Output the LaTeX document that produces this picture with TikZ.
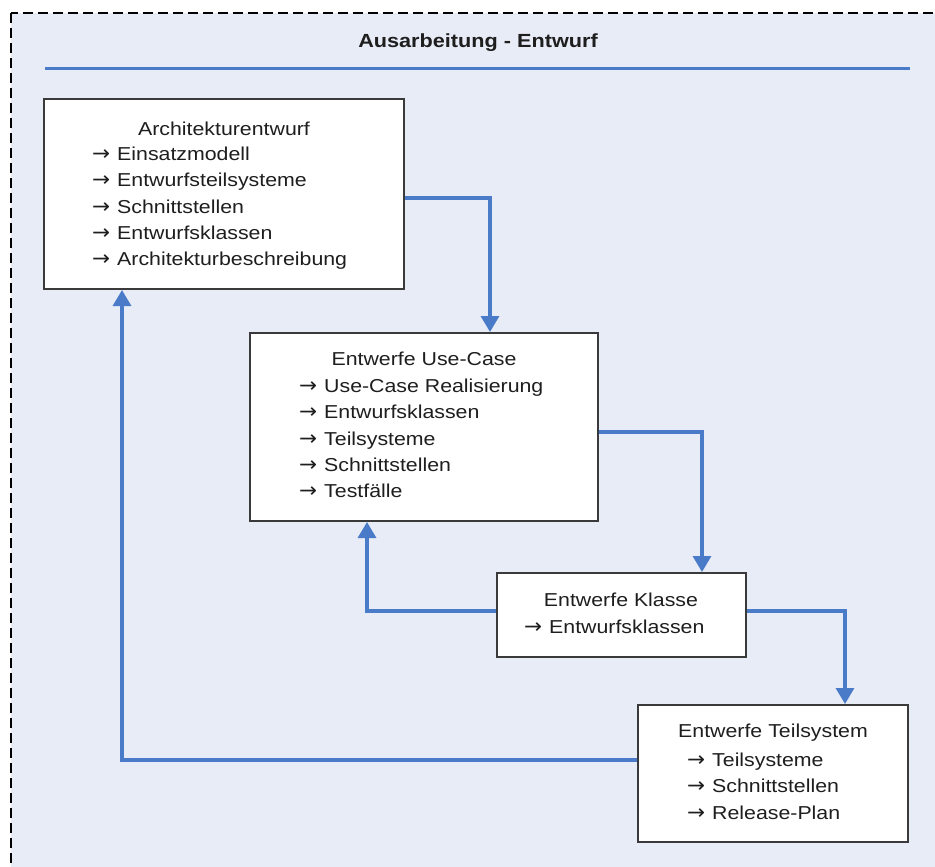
\documentclass[tikz,border=0pt]{standalone}
\usepackage{fontspec}
\usepackage{graphicx}
\setmainfont{Liberation Sans}[FakeStretch=1.14]
\newfontfamily\arrowfont{DejaVu Sans}
\usetikzlibrary{arrows.meta,calc}
\definecolor{panelbg}{HTML}{E8ECF6}
\definecolor{flowblue}{HTML}{4A7BC8}
\definecolor{boxline}{HTML}{3A3A3A}
\definecolor{inktext}{HTML}{1E1E1E}
\newcommand\ra{\scalebox{1.15}[1.1]{\arrowfont →}\hspace{7pt}}
\tikzset{
  stage/.style={draw=boxline, line width=2pt, fill=white, inner sep=0pt},
  flow/.style={draw=flowblue, line width=3.2pt,
    -{Triangle[length=16pt,width=18pt]}},
  head/.style={anchor=center, inner sep=0pt, text=inktext,
    font=\fontsize{18.7}{26.2}\selectfont},
  items/.style={anchor=north west, inner sep=0pt, align=left, text=inktext,
    font=\fontsize{18.7}{26.2}\selectfont},
}
\begin{document}
\begin{tikzpicture}[x=1pt,y=-1pt]
\useasboundingbox (0,0) rectangle (935,867);
\begin{scope}
\clip (0,0) rectangle (935,867);
% dashed frame of the panel
\draw[fill=panelbg, line width=1.8pt, dash pattern=on 10pt off 5pt]
  (11,13) rectangle (960,890);
\end{scope}
% title and rule
\node[text=inktext, font=\bfseries\fontsize{19}{22}\selectfont] (title) at (478,43) {Ausarbeitung - Entwurf};
\draw[flowblue, line width=3pt] (45,69) coordinate (rs) -- (910,69) coordinate (re);

% stages
\node[stage, minimum width=360pt, minimum height=190pt] (A) at (224,194) {};
\node[stage, minimum width=348pt, minimum height=188pt] (B) at (424,427) {};
\node[stage, minimum width=249pt, minimum height=84pt] (C) at (621.5,615) {};
\node[stage, minimum width=270pt, minimum height=137pt] (D) at (773,773.5) {};

% texts
\node[head] (Ah) at (224,129) {Architekturentwurf};
\node[items] (Ai) at (92,147) {\ra Einsatzmodell\\\ra Entwurfsteilsysteme\\\ra Schnittstellen\\\ra Entwurfsklassen\\\ra Architekturbeschreibung};
\node[head] (Bh) at (424,359) {Entwerfe Use-Case};
\node[items] (Bi) at (299,379) {\ra Use-Case Realisierung\\\ra Entwurfsklassen\\\ra Teilsysteme\\\ra Schnittstellen\\\ra Testfälle};
\node[head] (Ch) at (621,600) {Entwerfe Klasse};
\node[items] (Ci) at (524,620) {\ra Entwurfsklassen};
\node[head] (Dh) at (773,733) {Entwerfe Teilsystem};
\node[items] (Di) at (687,753) {\ra Teilsysteme\\\ra Schnittstellen\\\ra Release-Plan};

% connectors
\draw[flow] ([yshift=-4pt]A.east) -| ([xshift=66pt]B.north);
\draw[flow] ([yshift=-5pt]B.east) -| ([xshift=80.5pt]C.north);
\draw[flow] ([yshift=4pt]C.east) -| ([xshift=72pt]D.north);
\draw[flow] ([yshift=4pt]C.west) -| ([xshift=-57pt]B.south);
\draw[flow] ([yshift=13.5pt]D.west) -| ([xshift=-102pt]A.south);
\end{tikzpicture}
\end{document}
